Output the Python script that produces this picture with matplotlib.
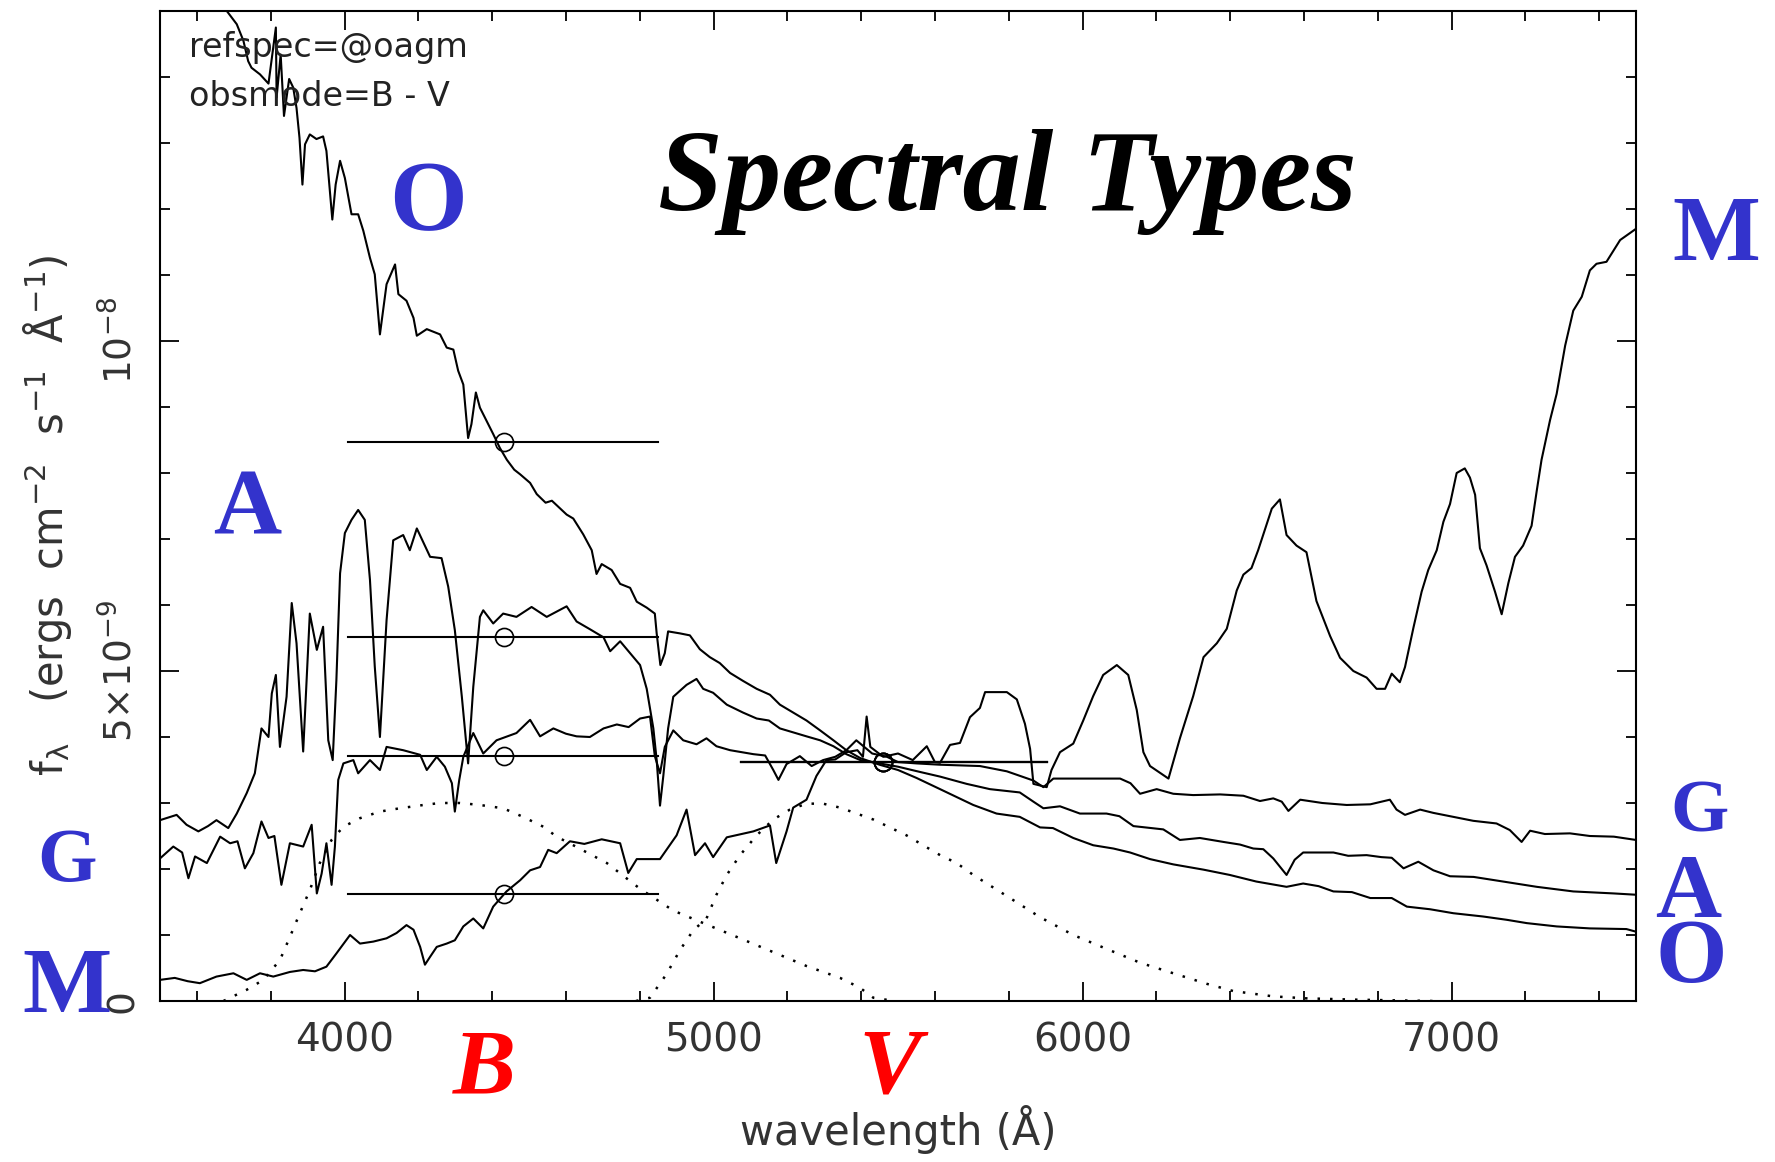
import numpy as np
import matplotlib
matplotlib.use("Agg")
import matplotlib.pyplot as plt
from matplotlib.ticker import MultipleLocator, FixedLocator

# flux values are in units of 1e-9 ergs cm^-2 s^-1 A^-1
o_wave = [3600, 3681, 3708, 3726, 3739, 3748, 3771, 3794, 3814, 3816, 3827, 3836, 3850, 3861,
          3870, 3878, 3886, 3893, 3906, 3924, 3942, 3951, 3967, 3976, 3988, 4001, 4019, 4037,
          4051, 4069, 4082, 4096, 4114, 4137, 4146, 4168, 4187, 4196, 4223, 4259, 4277, 4295,
          4308, 4322, 4335, 4344, 4356, 4367, 4385, 4403, 4421, 4440, 4460, 4476, 4503, 4521,
          4545, 4562, 4602, 4620, 4647, 4670, 4683, 4697, 4724, 4747, 4774, 4792, 4819, 4841,
          4846, 4856, 4868, 4877, 4909, 4936, 4963, 4990, 5017, 5045, 5080, 5117, 5153, 5180,
          5216, 5252, 5289, 5325, 5360, 5398, 5450, 5500, 5550, 5614, 5704, 5767, 5830, 5885,
          5920, 5975, 6029, 6084, 6129, 6183, 6246, 6328, 6399, 6471, 6553, 6598, 6640, 6680,
          6730, 6780, 6838, 6879, 6942, 7005, 7086, 7150, 7204, 7285, 7375, 7474, 7500]
o_flux = [16.0, 15.0, 14.8, 14.55, 14.24, 14.14, 14.04, 13.9, 14.75, 13.69, 14.34, 13.41, 13.97, 13.84,
          13.53, 13.08, 12.37, 12.98, 13.13, 13.06, 13.1, 12.88, 11.84, 12.37, 12.73, 12.47, 11.92, 11.92,
          11.67, 11.26, 11.01, 10.1, 10.86, 11.16, 10.71, 10.61, 10.35, 10.08, 10.18, 10.1, 9.9, 9.87,
          9.55, 9.34, 8.53, 8.74, 9.22, 8.99, 8.79, 8.59, 8.38, 8.2, 8.05, 7.98, 7.85, 7.68,
          7.55, 7.58, 7.37, 7.31, 7.07, 6.83, 6.47, 6.62, 6.53, 6.32, 6.26, 6.05, 5.96, 5.87,
          5.57, 5.09, 5.27, 5.6, 5.57, 5.54, 5.33, 5.21, 5.12, 4.97, 4.85, 4.73, 4.64, 4.49,
          4.37, 4.25, 4.1, 3.95, 3.8, 3.68, 3.58, 3.5, 3.38, 3.21, 2.97, 2.84, 2.79, 2.63,
          2.62, 2.47, 2.36, 2.31, 2.25, 2.15, 2.07, 1.99, 1.91, 1.81, 1.73, 1.78, 1.74, 1.66,
          1.65, 1.56, 1.56, 1.43, 1.39, 1.33, 1.28, 1.23, 1.18, 1.13, 1.1, 1.09, 1.05]

a_wave = [3500, 3545, 3572, 3604, 3630, 3653, 3685, 3708, 3735, 3757, 3775, 3794, 3803, 3814,
          3825, 3843, 3857, 3870, 3888, 3906, 3925, 3942, 3956, 3968, 3978, 3988, 4001, 4019,
          4037, 4055, 4069, 4082, 4096, 4114, 4132, 4159, 4177, 4196, 4232, 4263, 4281, 4299,
          4318, 4335, 4349, 4367, 4376, 4403, 4430, 4466, 4507, 4548, 4575, 4602, 4629, 4666,
          4702, 4720, 4747, 4774, 4801, 4819, 4837, 4846, 4855, 4864, 4877, 4891, 4927, 4954,
          4972, 4999, 5036, 5080, 5117, 5150, 5180, 5216, 5252, 5289, 5325, 5360, 5398, 5450,
          5500, 5560, 5614, 5686, 5749, 5830, 5867, 5894, 5939, 5993, 6065, 6100, 6138, 6219,
          6264, 6318, 6382, 6427, 6463, 6490, 6517, 6553, 6575, 6598, 6680, 6720, 6770, 6810,
          6838, 6870, 6910, 6951, 6996, 7060, 7140, 7231, 7330, 7439, 7500]
a_flux = [2.74, 2.82, 2.67, 2.57, 2.65, 2.74, 2.62, 2.84, 3.15, 3.45, 4.13, 4.0, 4.66, 4.94,
          3.85, 4.61, 6.03, 5.42, 3.78, 5.87, 5.32, 5.67, 3.95, 3.65, 4.86, 6.48, 7.09, 7.29,
          7.44, 7.29, 6.38, 5.07, 4.0, 5.77, 6.98, 7.06, 6.83, 7.16, 6.73, 6.71, 6.28, 5.62,
          4.61, 3.6, 4.76, 5.82, 5.92, 5.72, 5.87, 5.82, 5.97, 5.82, 5.9, 5.98, 5.75, 5.63,
          5.51, 5.3, 5.45, 5.27, 5.09, 4.73, 4.13, 3.65, 2.96, 3.41, 4.13, 4.61, 4.79, 4.88,
          4.73, 4.67, 4.49, 4.37, 4.28, 4.25, 4.13, 4.07, 4.01, 3.95, 3.86, 3.74, 3.65, 3.6,
          3.55, 3.47, 3.4, 3.29, 3.21, 3.16, 3.02, 2.92, 2.95, 2.84, 2.84, 2.8, 2.65, 2.6,
          2.44, 2.47, 2.41, 2.37, 2.31, 2.3, 2.16, 1.91, 2.14, 2.25, 2.25, 2.2, 2.21, 2.18,
          2.17, 2.01, 2.11, 1.98, 1.89, 1.88, 1.81, 1.73, 1.66, 1.63, 1.61]

g_wave = [3500, 3536, 3560, 3577, 3595, 3627, 3663, 3690, 3710, 3730, 3753, 3775, 3794, 3810,
          3829, 3852, 3888, 3911, 3925, 3938, 3951, 3965, 3974, 3983, 3997, 4024, 4037, 4069,
          4096, 4114, 4159, 4205, 4223, 4250, 4272, 4291, 4299, 4311, 4322, 4349, 4376, 4412,
          4466, 4503, 4530, 4566, 4600, 4629, 4665, 4702, 4738, 4770, 4801, 4828, 4841, 4855,
          4868, 4891, 4918, 4954, 4981, 5008, 5045, 5108, 5140, 5162, 5176, 5198, 5234, 5266,
          5297, 5330, 5360, 5387, 5430, 5470, 5500, 5550, 5614, 5722, 5795, 5867, 5894, 5921,
          6047, 6102, 6130, 6156, 6201, 6246, 6300, 6373, 6436, 6481, 6517, 6540, 6558, 6590,
          6650, 6716, 6780, 6833, 6851, 6874, 6915, 6951, 7005, 7059, 7122, 7158, 7190, 7213,
          7253, 7321, 7375, 7440, 7500]
g_flux = [2.16, 2.34, 2.25, 1.86, 2.19, 2.09, 2.49, 2.39, 2.42, 2.01, 2.24, 2.72, 2.47, 2.5,
          1.76, 2.39, 2.34, 2.67, 1.63, 1.93, 2.39, 1.76, 2.34, 3.35, 3.6, 3.65, 3.45, 3.65,
          3.5, 3.85, 3.8, 3.73, 3.5, 3.7, 3.55, 3.3, 2.87, 3.35, 3.7, 4.06, 3.75, 3.95,
          4.06, 4.26, 4.01, 4.13, 4.05, 4.01, 4.0, 4.13, 4.19, 4.15, 4.28, 4.31, 3.71, 3.45,
          3.85, 4.1, 3.95, 3.89, 3.98, 3.86, 3.8, 3.74, 3.72, 3.5, 3.35, 3.59, 3.71, 3.56,
          3.65, 3.7, 3.8, 3.95, 3.75, 3.7, 3.62, 3.6, 3.58, 3.56, 3.48, 3.34, 3.24, 3.37,
          3.37, 3.37, 3.3, 3.14, 3.21, 3.14, 3.12, 3.13, 3.11, 3.03, 3.07, 3.02, 2.88, 3.05,
          3.0, 2.97, 2.98, 3.05, 2.9, 2.82, 2.9, 2.85, 2.79, 2.73, 2.69, 2.59, 2.41, 2.58,
          2.53, 2.54, 2.5, 2.49, 2.44]

m_wave = [3500, 3540, 3575, 3608, 3653, 3699, 3735, 3771, 3807, 3852, 3888, 3920, 3951, 3978,
          4015, 4042, 4078, 4114, 4141, 4168, 4187, 4205, 4218, 4232, 4250, 4277, 4299, 4322,
          4349, 4376, 4403, 4439, 4476, 4503, 4530, 4552, 4575, 4611, 4650, 4697, 4747, 4769,
          4792, 4855, 4900, 4927, 4950, 4977, 4999, 5036, 5108, 5153, 5170, 5198, 5216, 5252,
          5279, 5306, 5330, 5360, 5390, 5405, 5415, 5425, 5460, 5500, 5540, 5578, 5600, 5614,
          5641, 5668, 5695, 5722, 5736, 5795, 5822, 5844, 5858, 5867, 5903, 5916, 5939, 5975,
          6002, 6029, 6056, 6093, 6124, 6147, 6165, 6183, 6233, 6264, 6300, 6328, 6364, 6391,
          6418, 6436, 6458, 6476, 6513, 6535, 6553, 6580, 6607, 6634, 6671, 6698, 6734, 6770,
          6797, 6820, 6838, 6860, 6874, 6897, 6919, 6937, 6960, 6978, 6996, 7014, 7036, 7050,
          7064, 7077, 7095, 7118, 7136, 7154, 7172, 7194, 7217, 7231, 7244, 7267, 7285, 7308,
          7330, 7353, 7375, 7393, 7420, 7457, 7500]
m_flux = [0.32, 0.35, 0.3, 0.27, 0.37, 0.42, 0.32, 0.42, 0.37, 0.44, 0.47, 0.45, 0.52, 0.72,
          1.0, 0.87, 0.9, 0.95, 1.03, 1.15, 1.08, 0.82, 0.55, 0.67, 0.82, 0.87, 0.92, 1.13,
          1.25, 1.1, 1.43, 1.66, 1.83, 1.98, 2.03, 2.29, 2.24, 2.42, 2.38, 2.45, 2.39, 1.94,
          2.15, 2.15, 2.51, 2.9, 2.21, 2.39, 2.18, 2.48, 2.57, 2.66, 2.09, 2.57, 2.93, 3.05,
          3.41, 3.65, 3.66, 3.77, 3.8, 3.7, 4.31, 3.85, 3.7, 3.75, 3.65, 3.86, 3.62, 3.61,
          3.88, 3.91, 4.3, 4.44, 4.68, 4.68, 4.57, 4.2, 3.82, 3.29, 3.24, 3.5, 3.77, 3.9,
          4.25, 4.62, 4.94, 5.09, 4.94, 4.41, 3.77, 3.56, 3.37, 3.98, 4.62, 5.21, 5.42, 5.64,
          6.22, 6.46, 6.56, 6.83, 7.46, 7.6, 7.06, 6.9, 6.8, 6.06, 5.53, 5.2, 5.0, 4.9,
          4.73, 4.73, 4.96, 4.83, 5.06, 5.66, 6.2, 6.53, 6.83, 7.26, 7.53, 8.0, 8.07, 7.93,
          7.67, 6.86, 6.6, 6.2, 5.86, 6.33, 6.73, 6.9, 7.2, 7.73, 8.2, 8.8, 9.2, 9.93,
          10.46, 10.67, 11.07, 11.17, 11.2, 11.53, 11.7]

# filter throughput curves (dotted), same flux units as drawn
bfilt_wave = [3672, 3735, 3780, 3825, 3852, 3879, 3906, 3933, 3965, 3997, 4042, 4096, 4150, 4214,
              4259, 4313, 4367, 4430, 4484, 4539, 4575, 4620, 4711, 4801, 4891, 4981, 5072, 5162,
              5252, 5343, 5397, 5433, 5490]
bfilt_flux = [0.0, 0.17, 0.32, 0.62, 0.97, 1.33, 1.68, 2.09, 2.44, 2.64, 2.77, 2.87, 2.92, 2.97,
              3.0, 3.0, 2.97, 2.92, 2.79, 2.64, 2.49, 2.36, 2.09, 1.7, 1.37, 1.16, 0.95, 0.74,
              0.53, 0.35, 0.2, 0.05, 0.0]
vfilt_wave = [4790, 4828, 4873, 4909, 4945, 4981, 5008, 5036, 5072, 5117, 5162, 5207, 5252, 5297,
              5343, 5388, 5433, 5478, 5523, 5568, 5614, 5659, 5704, 5795, 5885, 5975, 6065, 6156,
              6246, 6337, 6409, 6517, 6607, 6743, 6950]
vfilt_flux = [0.0, 0.05, 0.41, 0.77, 1.07, 1.25, 1.61, 1.91, 2.21, 2.51, 2.75, 2.9, 2.99, 2.99,
              2.93, 2.84, 2.75, 2.63, 2.51, 2.36, 2.21, 2.09, 1.91, 1.59, 1.27, 1.0, 0.79, 0.58,
              0.42, 0.26, 0.15, 0.07, 0.04, 0.02, 0.0]

# synthetic photometry bars
b_band = [4010, 4850]
v_band = [5075, 5904]
b_pivot = 4432
v_pivot = 5460
b_levels = [8.47, 5.51, 3.71, 1.62]
v_levels = [3.62, 3.62, 3.62, 3.62]

W, H = 1775, 1162
plt.rcParams['mathtext.default'] = 'regular'
fig = plt.figure(figsize=(W / 100, H / 100), dpi=100)
ax = fig.add_axes([160 / W, 1 - 1001 / H, 1476 / W, 990 / H])

sc = 1e-9
lw = 1.5
for wv, fl in [(o_wave, o_flux), (a_wave, a_flux), (g_wave, g_flux), (m_wave, m_flux)]:
    ax.plot(wv, np.array(fl) * sc, color='black', lw=lw)

ax.plot(bfilt_wave, np.array(bfilt_flux) * sc, color='black', lw=1.8, ls=(0, (1, 4)))
ax.plot(vfilt_wave, np.array(vfilt_flux) * sc, color='black', lw=1.8, ls=(0, (1, 4)))

for lev in b_levels:
    ax.plot(b_band, [lev * sc, lev * sc], color='black', lw=1.5)
    ax.plot([b_pivot], [lev * sc], marker='o', ms=13, mfc='none', mec='black', mew=1.2)
for lev in v_levels:
    ax.plot(v_band, [lev * sc, lev * sc], color='black', lw=1.5)
    ax.plot([v_pivot], [lev * sc], marker='o', ms=13, mfc='none', mec='black', mew=1.2)

ax.set_xlim(3500, 7500)
ax.set_ylim(0, 15 * sc)

ax.xaxis.set_major_locator(FixedLocator([4000, 5000, 6000, 7000]))
ax.xaxis.set_minor_locator(MultipleLocator(200))
ax.yaxis.set_major_locator(FixedLocator([0, 5 * sc, 10 * sc]))
ax.yaxis.set_minor_locator(MultipleLocator(1 * sc))
ax.set_yticklabels(['0', r'$5{\times}10^{-9}$', r'$10^{-8}$'], rotation=90, va='center')

tick_col = '#333333'
ax.tick_params(which='both', direction='in', top=True, right=True, width=1.3, color='black')
ax.tick_params(which='major', length=14)
ax.tick_params(which='minor', length=7)
ax.tick_params(axis='x', labelsize=28, pad=15, labelcolor=tick_col)
ax.tick_params(axis='y', labelsize=27, pad=14, labelcolor=tick_col)
for s in ax.spines.values():
    s.set_linewidth(1.5)

fig.text(48 / W, 1 - 515 / H,
         r'$f_\lambda$   (ergs  cm$^{-2}$  s$^{-1}$  Å$^{-1}$)',
         rotation=90, ha='center', va='center', fontsize=30, color=tick_col)
fig.text(898 / W, 1 - 1130 / H, 'wavelength (Å)', ha='center', va='center',
         fontsize=30, color=tick_col)

fig.text(189 / W, 1 - 48 / H, 'refspec=@oagm', ha='left', va='center', fontsize=24, color='#222222')
fig.text(189 / W, 1 - 96 / H, 'obsmode=B - V', ha='left', va='center', fontsize=24, color='#222222')

fig.text(1007 / W, 1 - 210 / H, 'Spectral Types', family='Liberation Serif', weight='bold',
         style='italic', fontsize=84, ha='center', va='baseline', color='black')

blue = '#3333CC'
labels = [('O', 428, 229, 72), ('A', 247, 533, 68), ('G', 67, 881, 55), ('M', 67, 1012, 68),
          ('M', 1716, 260, 67), ('G', 1700, 832, 54), ('A', 1688, 917, 66), ('O', 1691, 982, 66)]
for txt, x, y, size in labels:
    fig.text(x / W, 1 - y / H, txt, family='Liberation Serif', weight='bold', fontsize=size,
             ha='center', va='baseline', color=blue)

for txt, x in [('B', 484), ('V', 890)]:
    fig.text(x / W, 1 - 1093 / H, txt, family='Liberation Serif', weight='bold', style='italic',
             fontsize=68, ha='center', va='baseline', color='#FF0000')

fig.savefig('out.png', dpi=100)
